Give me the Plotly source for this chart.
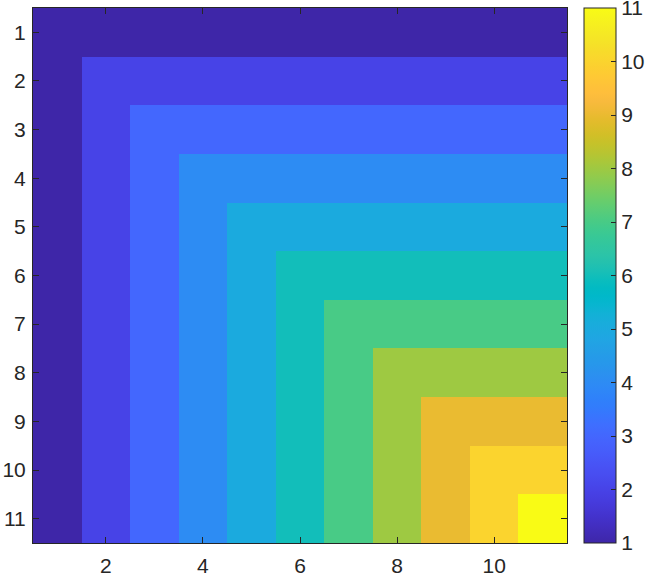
import plotly.graph_objects as go

cols = [1, 2, 3, 4, 5, 6, 7, 8, 9, 10, 11]
rows = [1, 2, 3, 4, 5, 6, 7, 8, 9, 10, 11]
z = [
    [1, 1, 1, 1, 1, 1, 1, 1, 1, 1, 1],
    [1, 2, 2, 2, 2, 2, 2, 2, 2, 2, 2],
    [1, 2, 3, 3, 3, 3, 3, 3, 3, 3, 3],
    [1, 2, 3, 4, 4, 4, 4, 4, 4, 4, 4],
    [1, 2, 3, 4, 5, 5, 5, 5, 5, 5, 5],
    [1, 2, 3, 4, 5, 6, 6, 6, 6, 6, 6],
    [1, 2, 3, 4, 5, 6, 7, 7, 7, 7, 7],
    [1, 2, 3, 4, 5, 6, 7, 8, 8, 8, 8],
    [1, 2, 3, 4, 5, 6, 7, 8, 9, 9, 9],
    [1, 2, 3, 4, 5, 6, 7, 8, 9, 10, 10],
    [1, 2, 3, 4, 5, 6, 7, 8, 9, 10, 11],
]
x_ticks = [2, 4, 6, 8, 10]
y_ticks = [1, 2, 3, 4, 5, 6, 7, 8, 9, 10, 11]
cbar_ticks = [1, 2, 3, 4, 5, 6, 7, 8, 9, 10, 11]

parula = [
    (0.2422, 0.1504, 0.6603), (0.2504, 0.1650, 0.7076), (0.2578, 0.1818, 0.7511),
    (0.2647, 0.1978, 0.7952), (0.2706, 0.2147, 0.8364), (0.2751, 0.2342, 0.8710),
    (0.2783, 0.2559, 0.8991), (0.2803, 0.2782, 0.9221), (0.2813, 0.3006, 0.9414),
    (0.2810, 0.3228, 0.9579), (0.2795, 0.3447, 0.9717), (0.2760, 0.3667, 0.9829),
    (0.2699, 0.3892, 0.9906), (0.2602, 0.4123, 0.9952), (0.2440, 0.4358, 0.9988),
    (0.2206, 0.4603, 0.9973), (0.1963, 0.4847, 0.9892), (0.1834, 0.5074, 0.9798),
    (0.1786, 0.5289, 0.9682), (0.1764, 0.5499, 0.9520), (0.1687, 0.5703, 0.9359),
    (0.1540, 0.5902, 0.9218), (0.1460, 0.6091, 0.9079), (0.1380, 0.6276, 0.8973),
    (0.1248, 0.6459, 0.8883), (0.1113, 0.6635, 0.8763), (0.0952, 0.6798, 0.8598),
    (0.0689, 0.6948, 0.8394), (0.0297, 0.7082, 0.8163), (0.0036, 0.7203, 0.7917),
    (0.0067, 0.7312, 0.7660), (0.0433, 0.7411, 0.7394), (0.0964, 0.7500, 0.7120),
    (0.1408, 0.7584, 0.6842), (0.1717, 0.7670, 0.6554), (0.1938, 0.7758, 0.6251),
    (0.2161, 0.7843, 0.5923), (0.2470, 0.7918, 0.5567), (0.2906, 0.7973, 0.5188),
    (0.3406, 0.8008, 0.4789), (0.3909, 0.8029, 0.4354), (0.4456, 0.8024, 0.3909),
    (0.5044, 0.7993, 0.3480), (0.5616, 0.7942, 0.3045), (0.6174, 0.7876, 0.2612),
    (0.6720, 0.7793, 0.2227), (0.7242, 0.7698, 0.1910), (0.7738, 0.7598, 0.1646),
    (0.8203, 0.7498, 0.1535), (0.8634, 0.7406, 0.1596), (0.9035, 0.7330, 0.1774),
    (0.9393, 0.7288, 0.2100), (0.9728, 0.7298, 0.2394), (0.9956, 0.7434, 0.2371),
    (0.9970, 0.7659, 0.2199), (0.9952, 0.7893, 0.2028), (0.9892, 0.8136, 0.1885),
    (0.9786, 0.8386, 0.1766), (0.9676, 0.8639, 0.1643), (0.9610, 0.8890, 0.1537),
    (0.9597, 0.9135, 0.1423), (0.9628, 0.9373, 0.1265), (0.9691, 0.9606, 0.1064),
    (0.9769, 0.9839, 0.0805),
]
n = len(parula)
colorscale = [
    [i / (n - 1), "rgb(%d,%d,%d)" % tuple(round(c * 255) for c in rgb)]
    for i, rgb in enumerate(parula)
]

axis_color = "#262626"
font = dict(family="Liberation Sans, Arial, sans-serif", size=21, color=axis_color)

cbar_tickvals = [min(max(v, 1.0005), 10.9995) for v in cbar_ticks]

fig = go.Figure(
    go.Heatmap(
        z=z, x=cols, y=rows,
        zmin=1, zmax=11,
        colorscale=colorscale,
        showscale=True,
        xgap=0, ygap=0,
        hoverinfo="skip",
        colorbar=dict(
            x=1.0318, xanchor="left", xpad=0, ypad=0,
            y=0.5, yanchor="middle", len=1, lenmode="fraction",
            thickness=32, thicknessmode="pixels",
            outlinewidth=1, outlinecolor=axis_color,
            tickmode="array", tickvals=cbar_tickvals,
            ticktext=[str(v) for v in cbar_ticks],
            ticks="inside", ticklen=5, tickcolor=axis_color, tickwidth=1,
            tickfont=font, ticklabeloverflow="allow",
        ),
    )
)

fig.update_layout(
    width=647, height=576,
    margin=dict(l=33, r=80, t=8, b=33, autoexpand=False),
    paper_bgcolor="white", plot_bgcolor="white",
    font=font,
    showlegend=False,
)
fig.update_xaxes(
    range=[0.5, 11.5], tickmode="array", tickvals=x_ticks,
    ticks="inside", ticklen=6, tickcolor=axis_color, tickwidth=1,
    showline=True, linecolor=axis_color, linewidth=1, mirror="ticks",
    showgrid=False, zeroline=False, tickfont=font, ticklabelstandoff=4,
    automargin=False,
)
fig.update_yaxes(
    range=[11.5, 0.5], tickmode="array", tickvals=y_ticks,
    ticks="inside", ticklen=6, tickcolor=axis_color, tickwidth=1,
    showline=True, linecolor=axis_color, linewidth=1, mirror="ticks",
    showgrid=False, zeroline=False, tickfont=font, ticklabelstandoff=2,
    automargin=False,
)

fig.write_html(
    "out.html",
    config={"displayModeBar": False},
    post_script="document.body.style.margin='0';document.body.style.overflow='hidden';",
)
